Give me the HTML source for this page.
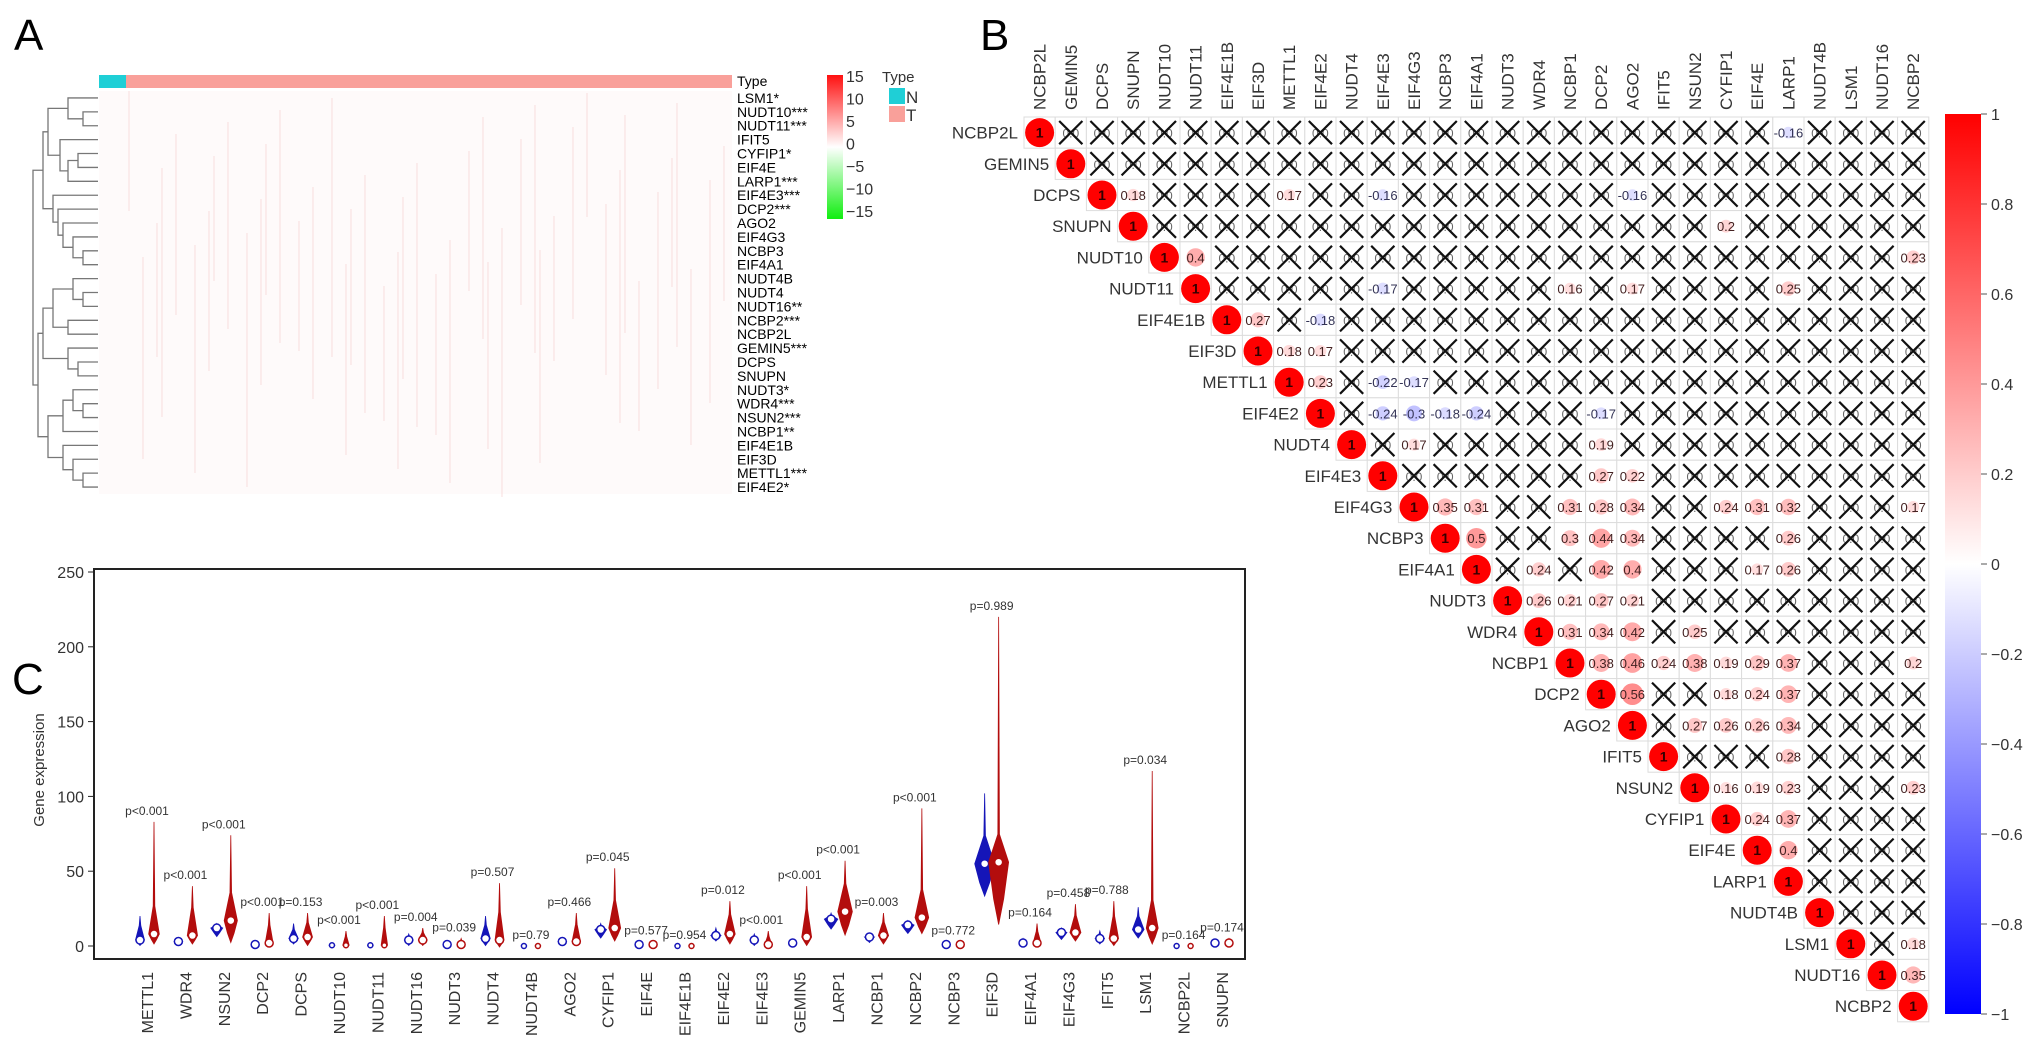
<!DOCTYPE html>
<html><head><meta charset="utf-8"><style>
html,body{margin:0;padding:0;background:#fff;}
svg{display:block;font-family:"Liberation Sans",Arial,sans-serif;}
</style></head><body>
<svg id="fig" width="2032" height="1044" viewBox="0 0 2032 1044" xmlns="http://www.w3.org/2000/svg">
<text x="14" y="50" font-size="44">A</text>
<text x="980" y="50" font-size="44">B</text>
<text x="12" y="694" font-size="44">C</text>
<defs>
<linearGradient id="gA" x1="0" y1="0" x2="0" y2="1"><stop offset="0" stop-color="#ff1010"/><stop offset="0.5" stop-color="#ffffff"/><stop offset="1" stop-color="#10ee10"/></linearGradient>
<linearGradient id="gB" x1="0" y1="0" x2="0" y2="1"><stop offset="0" stop-color="#ff0000"/><stop offset="0.5" stop-color="#ffffff"/><stop offset="1" stop-color="#0000ff"/></linearGradient>
</defs>
<g id="pa"></g>
<g id="pb"></g>
<g id="pc"></g>
</svg>
<script>
const NS="http://www.w3.org/2000/svg";
function mk(p,tag,at,txt){const e=document.createElementNS(NS,tag);for(const k in at)e.setAttribute(k,at[k]);if(txt!==undefined)e.textContent=txt;p.appendChild(e);return e;}

// ---------- Panel A data ----------
const heatGenes=["LSM1*","NUDT10***","NUDT11***","IFIT5","CYFIP1*","EIF4E","LARP1***","EIF4E3***","DCP2***","AGO2","EIF4G3","NCBP3","EIF4A1","NUDT4B","NUDT4","NUDT16**","NCBP2***","NCBP2L","GEMIN5***","DCPS","SNUPN","NUDT3*","WDR4***","NSUN2***","NCBP1**","EIF4E1B","EIF3D","METTL1***","EIF4E2*"];
const heatTicks=[15,10,5,0,-5,-10,-15];
const dendroMerges=[[1,2,15],[0,29,30],[4,5,20],[31,6,30],[3,32,38],[30,33,50],[11,12,15],[10,35,25],[9,36,35],[8,37,40],[7,38,45],[34,39,55],[14,15,15],[13,41,25],[16,17,30],[42,43,45],[19,20,20],[18,45,30],[44,46,55],[22,23,15],[21,48,25],[49,24,35],[27,28,15],[26,51,25],[25,52,35],[50,53,50],[47,54,60],[40,55,65]];
(function(){
 const g=document.getElementById('pa');
 const x0=99,x1=732,y0=91,rh=(494-91)/heatGenes.length;
 let e=mk(g,'rect',{x:x0,y:75,width:27,height:13,fill:'#1fcfd6'});
 
 e=mk(g,'rect',{x:x0+27,y:75,width:x1-x0-27,height:13,fill:'#f9a09a'});
 
 e=mk(g,'rect',{x:x0,y:y0,width:x1-x0,height:494-y0,fill:'#fefafa'});
 
 for(let i=0;i<45;i++){const xx=x0+30+((i*137)%600);const ya=y0+((i*53)%200);e=mk(g,'line',{x1:xx,x2:xx,y1:ya,y2:ya+120+((i*31)%150),stroke:'#f6caca','stroke-width':1.2,opacity:0.5});}
 mk(g,'text',{x:737,y:86,'font-size':14},'Type');
 heatGenes.forEach((n,i)=>{const t=mk(g,'text',{x:737,y:y0+rh*(i+0.5)+5,'font-size':14},n);
  });
 const pos={},ht={};const R=98;
 heatGenes.forEach((n,i)=>{pos[i]=y0+rh*(i+0.5);ht[i]=0;});
 dendroMerges.forEach((m,k)=>{const id=29+k;const [a,b,h]=m;const xa=R-ht[a],xb=R-ht[b],xh=R-h;
  mk(g,'path',{d:`M${xa},${pos[a]}H${xh}V${pos[b]}H${xb}`,fill:'none',stroke:'#777','stroke-width':1.3});
  pos[id]=(pos[a]+pos[b])/2;ht[id]=h;});
 e=mk(g,'rect',{x:827,y:75,width:16,height:144,fill:'url(#gA)'});
 
 heatTicks.forEach((v,i)=>{mk(g,'text',{x:846,y:82+i*22.5,'font-size':16,fill:'#333'},v<0?'−'+(-v):String(v));});
 mk(g,'text',{x:882,y:82,'font-size':15,fill:'#333'},'Type');
 e=mk(g,'rect',{x:889,y:88,width:16,height:16,fill:'#1fcfd6'});
 mk(g,'text',{x:906,y:103,'font-size':17,fill:'#333'},'N');
 e=mk(g,'rect',{x:889,y:106,width:16,height:16,fill:'#f9a09a'});
 mk(g,'text',{x:906,y:121,'font-size':17,fill:'#333'},'T');
})();

// ---------- Panel B data ----------
const corrGenes=["NCBP2L","GEMIN5","DCPS","SNUPN","NUDT10","NUDT11","EIF4E1B","EIF3D","METTL1","EIF4E2","NUDT4","EIF4E3","EIF4G3","NCBP3","EIF4A1","NUDT3","WDR4","NCBP1","DCP2","AGO2","IFIT5","NSUN2","CYFIP1","EIF4E","LARP1","NUDT4B","LSM1","NUDT16","NCBP2"];
const sigRow=[0,2,2,2,2,3,4,4,5,5,5,5,6,6,7,7,8,8,8,9,9,9,9,9,10,10,11,11,12,12,12,12,12,12,12,12,12,13,13,13,13,13,14,14,14,14,14,15,15,15,15,16,16,16,16,17,17,17,17,17,17,17,17,18,18,18,18,19,19,19,19,20,21,21,21,21,22,22,23,26,27];
const sigCol=[24,3,8,11,19,22,5,28,11,17,19,24,7,9,8,9,9,11,12,11,12,13,14,18,12,18,18,19,13,14,17,18,19,22,23,24,28,14,17,18,19,24,16,18,19,23,24,16,17,18,19,17,18,19,21,18,19,20,21,22,23,24,28,19,22,23,24,21,22,23,24,24,22,23,24,28,23,24,24,28,28];
const sigVal=[-0.16,0.18,0.17,-0.16,-0.16,0.2,0.4,0.23,-0.17,0.16,0.17,0.25,0.27,-0.18,0.18,0.17,0.23,-0.22,-0.17,-0.24,-0.3,-0.18,-0.24,-0.17,0.17,0.19,0.27,0.22,0.35,0.31,0.31,0.28,0.34,0.24,0.31,0.32,0.17,0.5,0.3,0.44,0.34,0.26,0.24,0.42,0.4,0.17,0.26,0.26,0.21,0.27,0.21,0.31,0.34,0.42,0.25,0.38,0.46,0.24,0.38,0.19,0.29,0.37,0.2,0.56,0.18,0.24,0.37,0.27,0.26,0.26,0.34,0.28,0.16,0.19,0.23,0.23,0.24,0.37,0.4,0.18,0.35];
const corrTicks=[1,0.8,0.6,0.4,0.2,0,-0.2,-0.4,-0.6,-0.8,-1];
function corrColor(r){const a=Math.min(1,Math.abs(r));const c=Math.round(255*(1-a));return r>=0?`rgb(255,${c},${c})`:`rgb(${c},${c},255)`;}
(function(){
 const g=document.getElementById('pb');
 const L=1024,T=117,cs=31.2,n=corrGenes.length;
 const sig={};sigRow.forEach((r,k)=>{sig[r+'_'+sigCol[k]]=sigVal[k];});
 for(let i=0;i<n;i++){
  const rl=mk(g,'text',{x:L+i*cs-6,y:T+i*cs+cs/2+6,'font-size':17,'text-anchor':'end',fill:'#333'},corrGenes[i]);
  
  const cx=L+i*cs+cs/2+6;
  const cl=mk(g,'text',{x:0,y:0,'font-size':17,fill:'#333',transform:`translate(${cx},110) rotate(-90)`},corrGenes[i]);
  
  for(let j=i;j<n;j++){
   const x=L+j*cs,y=T+i*cs,cx2=x+cs/2,cy=y+cs/2;
   const cell=mk(g,'rect',{x:x,y:y,width:cs,height:cs,fill:'#fff',stroke:'#dcdcdc','stroke-width':1});
   
   if(i===j){
    const c=mk(g,'circle',{cx:cx2,cy:cy,r:14.5,fill:'#ff0000'});
    
    mk(g,'text',{x:cx2,y:cy+5,'font-size':14,'font-weight':'bold','text-anchor':'middle',fill:'#300'},'1');
   } else if(sig[i+'_'+j]!==undefined){
    const v=sig[i+'_'+j];
    const c=mk(g,'circle',{cx:cx2,cy:cy,r:14.5*Math.sqrt(Math.abs(v)),fill:corrColor(v),opacity:0.8});
    
    mk(g,'text',{x:cx2,y:cy+5,'font-size':13,'text-anchor':'middle',fill:v<0?'#335':'#422'},String(v));
   } else {
    mk(g,'text',{x:cx2,y:cy+5,'font-size':12,'text-anchor':'middle',fill:'#666'},'0.0');
    const xx=mk(g,'path',{d:`M${x+4},${y+4}L${x+cs-4},${y+cs-4}M${x+cs-4},${y+4}L${x+4},${y+cs-4}`,stroke:'#111','stroke-width':2.2});
    
   }
  }
 }
 const cb=mk(g,'rect',{x:1945,y:114,width:36,height:900,fill:'url(#gB)'});
 
 corrTicks.forEach((v,i)=>{const y=114+i*90;
  mk(g,'line',{x1:1981,x2:1987,y1:y,y2:y,stroke:'#555'});
  mk(g,'text',{x:1991,y:y+6,'font-size':16,fill:'#333'},v<0?'−'+(-v):String(v));});
})();

// ---------- Panel C data ----------
const vGenes=["METTL1","WDR4","NSUN2","DCP2","DCPS","NUDT10","NUDT11","NUDT16","NUDT3","NUDT4","NUDT4B","AGO2","CYFIP1","EIF4E","EIF4E1B","EIF4E2","EIF4E3","GEMIN5","LARP1","NCBP1","NCBP2","NCBP3","EIF3D","EIF4A1","EIF4G3","IFIT5","LSM1","NCBP2L","SNUPN"];
const nMed=[4,3,12,1,5,0.5,0.5,4,1,5,0,3,11,1,0,7,4,2,18,6,14,1,55,2,9,5,11,0,2];
const nMin=[1,1,7,0,2,0,0,1,0,1,0,1,6,0,0,4,1,0,12,3,9,0,34,0,5,2,6,0,1];
const nMax=[20,5,15,2,15,1,1,8,2,20,0,5,15,1,0,12,8,4,22,6,17,2,102,5,12,10,26,0,3];
const tMed=[8,7,17,2,6,0.5,0.5,4,1,4,0,3,12,1,0,8,1,6,23,7,19,1,56,2,9,5,12,0,2];
const tMin=[2,2,3,0,1,0,0,1,0,0,0,1,4,0,0,2,0,1,8,2,9,0,15,0,4,1,2,0,1];
const tMax=[83,40,74,22,22,10,20,12,5,42,0,22,52,3,0,30,10,40,57,22,92,3,220,15,28,30,117,0,5];
const pLabels=["p<0.001","p<0.001","p<0.001","p<0.001","p=0.153","p<0.001","p<0.001","p=0.004","p=0.039","p=0.507","p=0.79","p=0.466","p=0.045","p=0.577","p=0.954","p=0.012","p<0.001","p<0.001","p<0.001","p=0.003","p<0.001","p=0.772","p=0.989","p=0.164","p=0.458","p=0.788","p=0.034","p=0.164","p=0.174"];
const yTicks=[0,50,100,150,200,250];
(function(){
 const g=document.getElementById('pc');
 const bx=94,by=569,bw=1151,bh=390;
 const ys=v=>946-v*(946-572)/250;
 const xs=i=>147+i*(1222-147)/(vGenes.length-1);
 const fr=mk(g,'rect',{x:bx,y:by,width:bw,height:bh,fill:'none',stroke:'#222','stroke-width':2});
 
 yTicks.forEach(v=>{const y=ys(v);mk(g,'line',{x1:bx-6,x2:bx,y1:y,y2:y,stroke:'#222'});
  const t=mk(g,'text',{x:bx-10,y:y+6,'font-size':16,'text-anchor':'end',fill:'#333'},String(v));
  });
 const yl=mk(g,'text',{x:0,y:0,'font-size':15,'text-anchor':'middle',fill:'#333',transform:'translate(44,770) rotate(-90)'},'Gene expression');
 
 function violin(cx,med,lo,hi,col,name){
  const w=Math.min(11,2.5+Math.sqrt(Math.max(med,0))*1.0);
  const yh=ys(hi),ym=ys(med),yl2=ys(lo);
  const up=Math.min(28,(ym-yh)*0.6);
  const d=`M${cx},${yh} L${cx+0.8},${ym-up} L${cx+w},${ym} L${cx+w*0.5},${ym+(yl2-ym)*0.6} L${cx},${yl2+1} L${cx-w*0.5},${ym+(yl2-ym)*0.6} L${cx-w},${ym} L${cx-0.8},${ym-up}Z`;
  const p=mk(g,'path',{d:d,fill:col,stroke:col,'stroke-width':0.8});
  
  const c=mk(g,'circle',{cx:cx,cy:ym,r:med<1?2.5:4,fill:'#fff',stroke:col,'stroke-width':1.5});
  
 }
 vGenes.forEach((gname,i)=>{
  const cx=xs(i);
  violin(cx-7,nMed[i],nMin[i],nMax[i],'#1515b8','violin-normal');
  violin(cx+7,tMed[i],tMin[i],tMax[i],'#b30d0d','violin-tumor');
  const top=Math.max(nMax[i],tMax[i]);
  const pt=mk(g,'text',{x:cx,y:ys(top)-7,'font-size':12,'text-anchor':'middle',fill:'#333'},pLabels[i]);
  
  const xl=mk(g,'text',{x:0,y:0,'font-size':16,'text-anchor':'end',fill:'#333',transform:`translate(${cx+6},972) rotate(-90)`},gname);
  
 });
})();
</script>
</body></html>
